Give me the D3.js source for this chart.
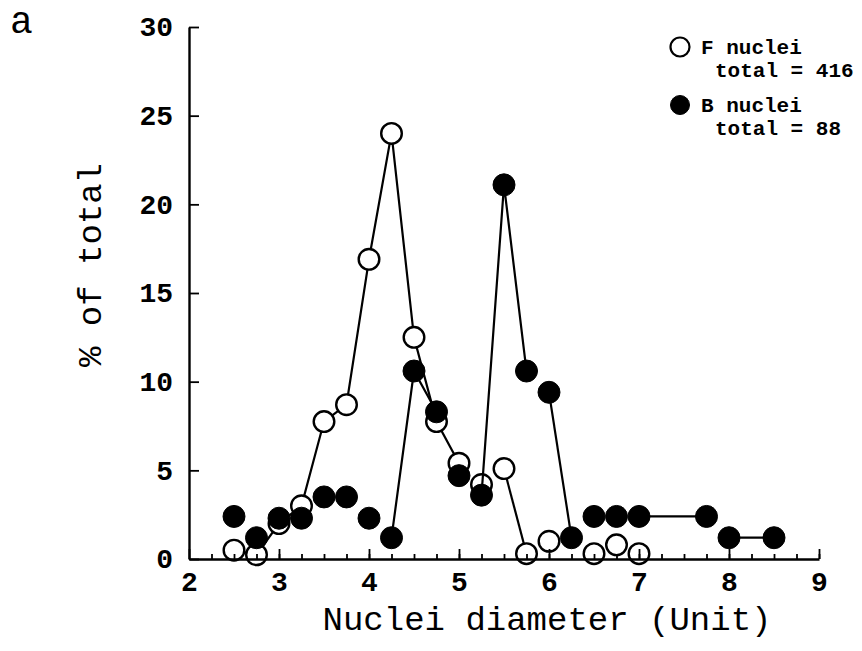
<!DOCTYPE html>
<html>
<head>
<meta charset="utf-8">
<script src="https://cdn.jsdelivr.net/npm/d3@7"></script>
<style>
  body { margin: 0; background: #fff; }
  svg { display: block; }
</style>
</head>
<body>
<script>
// F nuclei (open circles), total = 416
const fDiameter = [2.5, 2.75, 3, 3.25, 3.5, 3.75, 4, 4.25, 4.5, 4.75, 5, 5.25, 5.5, 5.75, 6, 6.5, 6.75, 7];
const fPercent  = [0.5, 0.24, 2.0, 3.0, 7.75, 8.7, 16.9, 24.0, 12.5, 7.75, 5.4, 4.2, 5.1, 0.3, 1.0, 0.3, 0.8, 0.3];
// B nuclei (filled circles), total = 88
const bDiameter = [2.5, 2.75, 3, 3.25, 3.5, 3.75, 4, 4.25, 4.5, 4.75, 5, 5.25, 5.5, 5.75, 6, 6.25, 6.5, 6.75, 7, 7.75, 8, 8.5];
const bPercent  = [2.4, 1.2, 2.3, 2.3, 3.5, 3.5, 2.3, 1.2, 10.6, 8.3, 4.7, 3.6, 21.1, 10.6, 9.4, 1.2, 2.4, 2.4, 2.4, 2.4, 1.2, 1.2];
// stretches of diameters that are joined by a line in the figure
const fRuns = [[2.5, 5], [5.5, 5.75]];
const bRuns = [[4.25, 4.75], [5.25, 5.75], [6, 6.25], [7, 7.75], [8, 8.5]];

const xTicks = [2, 3, 4, 5, 6, 7, 8, 9];
const yTicks = [0, 5, 10, 15, 20, 25, 30];
const legendItems = [
  {name: "F nuclei", total: "total = 416", filled: false},
  {name: "B nuclei", total: "total = 88", filled: true}
];

const W = 862, H = 651;
const mono = "'Liberation Mono', 'DejaVu Sans Mono', monospace";

let svg = d3.select("body").append("svg")
  .attr("width", W)
  .attr("height", H);

svg.append("rect").attr("width", W).attr("height", H).attr("fill", "#fff");

let x = d3.scaleLinear().domain([2, 9]).range([189, 819]),
    y = d3.scaleLinear().domain([0, 30]).range([559, 27]);

let fData = fDiameter.map((d, i) => ({x: d, y: fPercent[i]}));
let bData = bDiameter.map((d, i) => ({x: d, y: bPercent[i]}));

let line = d3.line().x(d => x(d.x)).y(d => y(d.y));

function drawSeries(data, runs, filled){
  let g = svg.append("g");
  runs.forEach(r => {
    g.append("path")
      .datum(data.filter(d => d.x >= r[0] && d.x <= r[1]))
      .attr("d", line)
      .attr("fill", "none")
      .attr("stroke", "#000")
      .attr("stroke-width", 2.2);
  });
  g.selectAll("circle")
    .data(data)
    .enter().append("circle")
    .attr("cx", d => x(d.x))
    .attr("cy", d => y(d.y))
    .attr("r", filled ? 11 : 10.3)
    .attr("fill", filled ? "#000" : "#fff")
    .attr("stroke", "#000")
    .attr("stroke-width", filled ? 1 : 2.4);
}

drawSeries(fData, fRuns, false);
drawSeries(bData, bRuns, true);

// x axis: minor ticks every 0.25, labelled ticks at integers, all pointing up
let xMinor = svg.append("g")
  .attr("transform", "translate(0," + y(0) + ")")
  .call(d3.axisBottom(x).tickValues(d3.range(2.25, 9.01, 0.25)).tickSize(-5).tickFormat(""));
xMinor.select(".domain").remove();

let xAxis = svg.append("g")
  .attr("transform", "translate(0," + y(0) + ")")
  .call(d3.axisBottom(x).tickValues(xTicks).tickSize(-10).tickPadding(17)
    .tickSizeOuter(0).tickFormat(d3.format("d")));
xAxis.selectAll("text")
  .attr("font-family", mono)
  .attr("font-weight", "bold")
  .attr("font-size", 28)
  .attr("dy", "0.55em")
  .attr("fill", "#000");

let yAxis = svg.append("g")
  .attr("transform", "translate(" + x(2) + ",0)")
  .call(d3.axisLeft(y).tickValues(yTicks).tickSize(-10).tickPadding(16)
    .tickSizeOuter(0).tickFormat(d3.format("d")));
yAxis.selectAll("text")
  .attr("font-family", mono)
  .attr("font-weight", "bold")
  .attr("font-size", 28)
  .attr("fill", "#000");

svg.selectAll(".domain").attr("stroke", "#000").attr("stroke-width", 2.4);
svg.selectAll(".tick line").attr("stroke", "#000").attr("stroke-width", 1.8);

// axis titles
svg.append("text")
  .attr("x", 547)
  .attr("y", 630)
  .attr("text-anchor", "middle")
  .attr("font-family", mono)
  .attr("font-size", 34)
  .attr("fill", "#000")
  .text("Nuclei diameter (Unit)");

svg.append("text")
  .attr("transform", "translate(101,265) rotate(-90)")
  .attr("text-anchor", "middle")
  .attr("font-family", mono)
  .attr("font-size", 34)
  .attr("fill", "#000")
  .text("% of total");

// panel letter
svg.append("text")
  .attr("x", 10)
  .attr("y", 33)
  .attr("font-family", mono)
  .attr("font-size", 38)
  .attr("fill", "#000")
  .text("a");

// legend
let legend = svg.selectAll("g.legend")
  .data(legendItems)
  .enter().append("g")
  .attr("class", "legend")
  .attr("transform", (d, i) => "translate(680," + (47 + i * 58) + ")");

legend.append("circle")
  .attr("r", 9.5)
  .attr("fill", d => d.filled ? "#000" : "#fff")
  .attr("stroke", "#000")
  .attr("stroke-width", d => d.filled ? 1 : 2.2);

legend.append("text")
  .attr("x", 21)
  .attr("y", 7)
  .attr("font-family", mono)
  .attr("font-weight", "bold")
  .attr("font-size", 21)
  .text(d => d.name);

legend.append("text")
  .attr("x", 35)
  .attr("y", 30)
  .attr("font-family", mono)
  .attr("font-weight", "bold")
  .attr("font-size", 21)
  .text(d => d.total);
</script>
</body>
</html>
